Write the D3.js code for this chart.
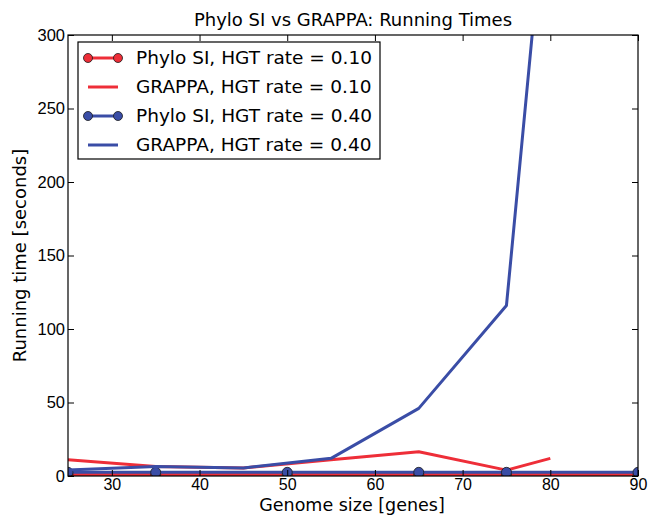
<!DOCTYPE html>
<html>
<head>
<meta charset="utf-8">
<script src="https://cdn.jsdelivr.net/npm/d3@7"></script>
<style>
  body { margin: 0; background: #fff; }
  svg { font-family: "DejaVu Sans", sans-serif; }
  .axis path, .axis line { stroke: #000; }
  .axis text { font-size: 16.5px; fill: #000; }
  .x.axis text { font-size: 16px; }
</style>
</head>
<body>
<svg class="chart"></svg>
<script>
var width = 648,
    height = 515;

var margin = {top: 35, right: 10, bottom: 39, left: 68},
    w = width - margin.left - margin.right,
    h = height - margin.top - margin.bottom;

// data
var phyloX = [25, 35, 50, 65, 75, 90];
var phylo10 = [1.0, 1.0, 1.0, 1.0, 1.0, 1.0];
var phylo40 = [2.5, 2.5, 2.5, 2.5, 2.5, 2.5];
var grappaX10 = [25, 35, 45, 55, 65, 75, 80];
var grappa10 = [11, 6.5, 5.5, 11, 16.5, 4, 12];
var grappaX40 = [25, 35, 45, 55, 65, 75, 80];
var grappa40 = [4, 6.5, 5.5, 12, 46, 116, 430];

var xTicks = [30, 40, 50, 60, 70, 80, 90];
var yTicks = [0, 50, 100, 150, 200, 250, 300];

var red = "#ee2e38",
    blue = "#3a4da6";

var series = [
  {name: "Phylo SI, HGT rate = 0.10", xs: phyloX, ys: phylo10, color: red, marker: true},
  {name: "GRAPPA, HGT rate = 0.10", xs: grappaX10, ys: grappa10, color: red, marker: false},
  {name: "Phylo SI, HGT rate = 0.40", xs: phyloX, ys: phylo40, color: blue, marker: true},
  {name: "GRAPPA, HGT rate = 0.40", xs: grappaX40, ys: grappa40, color: blue, marker: false}
];

var x = d3.scaleLinear().domain([25, 90]).range([0, w]),
    y = d3.scaleLinear().domain([0, 300]).range([h, 0]);

var svg = d3.select(".chart")
    .attr("width", width)
    .attr("height", height);

var chart = svg.append("g")
    .attr("transform", "translate(" + margin.left + "," + margin.top + ")");

chart.append("clipPath").attr("id", "clip")
  .append("rect").attr("width", w).attr("height", h);

var plot = chart.append("g").attr("clip-path", "url(#clip)");

var line = d3.line()
    .x(function(d) { return x(d[0]); })
    .y(function(d) { return y(d[1]); });

series.forEach(function(s) {
  var pts = s.xs.map(function(v, i) { return [v, s.ys[i]]; });
  plot.append("path")
      .datum(pts)
      .attr("fill", "none")
      .attr("stroke", s.color)
      .attr("stroke-width", 3)
      .attr("stroke-linejoin", "round")
      .attr("d", line);
  if (s.marker) {
    plot.selectAll(null)
        .data(pts)
      .enter().append("circle")
        .attr("cx", function(d) { return x(d[0]); })
        .attr("cy", function(d) { return y(d[1]); })
        .attr("r", 5)
        .attr("fill", s.color)
        .attr("stroke", "#1a1a1a")
        .attr("stroke-width", 0.8);
  }
});

// axes, ticks pointing inward on all sides
var xAxis = d3.axisBottom(x).tickValues(xTicks).tickSize(-6).tickPadding(3),
    yAxis = d3.axisLeft(y).tickValues(yTicks).tickSize(-6).tickPadding(3);

chart.append("g")
    .attr("class", "x axis")
    .attr("transform", "translate(0," + h + ")")
    .call(xAxis)
    .call(function(g) { g.select(".domain").remove(); });

chart.append("g")
    .attr("class", "y axis")
    .call(yAxis)
    .call(function(g) { g.select(".domain").remove(); });

chart.append("g")
    .attr("class", "axis")
    .call(d3.axisTop(x).tickValues(xTicks).tickSize(-6).tickFormat(""))
    .call(function(g) { g.select(".domain").remove(); });

chart.append("g")
    .attr("class", "axis")
    .attr("transform", "translate(" + w + ",0)")
    .call(d3.axisRight(y).tickValues(yTicks).tickSize(-6).tickFormat(""))
    .call(function(g) { g.select(".domain").remove(); });

chart.append("rect")
    .attr("width", w)
    .attr("height", h)
    .attr("fill", "none")
    .attr("stroke", "#000")
    .attr("stroke-width", 1.2);

// title and labels
svg.append("text")
    .attr("x", margin.left + w / 2)
    .attr("y", 26)
    .attr("text-anchor", "middle")
    .style("font-size", "18px")
    .text("Phylo SI vs GRAPPA: Running Times");

svg.append("text")
    .attr("x", margin.left + w / 2 - 1)
    .attr("y", 511)
    .attr("text-anchor", "middle")
    .style("font-size", "17.5px")
    .text("Genome size [genes]");

svg.append("text")
    .attr("transform", "translate(26," + (margin.top + h / 2) + ") rotate(-90)")
    .attr("text-anchor", "middle")
    .style("font-size", "18px")
    .text("Running time [seconds]");

// legend
var legend = chart.append("g")
    .attr("transform", "translate(10,7)");

legend.append("rect")
    .attr("width", 302)
    .attr("height", 117)
    .attr("fill", "#fff")
    .attr("stroke", "#000")
    .attr("stroke-width", 1.2);

var item = legend.selectAll(".item")
    .data(series)
  .enter().append("g")
    .attr("class", "item")
    .attr("transform", function(d, i) { return "translate(0," + (16 + i * 29) + ")"; });

item.append("line")
    .attr("x1", 10).attr("x2", 40)
    .attr("stroke", function(d) { return d.color; })
    .attr("stroke-width", 3);

item.filter(function(d) { return d.marker; })
    .selectAll("circle")
    .data(function(d) { return [10, 40].map(function(c) { return {cx: c, color: d.color}; }); })
  .enter().append("circle")
    .attr("cx", function(d) { return d.cx; })
    .attr("r", 4.5)
    .attr("fill", function(d) { return d.color; })
    .attr("stroke", "#1a1a1a")
    .attr("stroke-width", 0.8);

item.append("text")
    .attr("x", 58)
    .attr("dy", "0.35em")
    .style("font-size", "18.5px")
    .text(function(d) { return d.name; });
</script>
</body>
</html>
